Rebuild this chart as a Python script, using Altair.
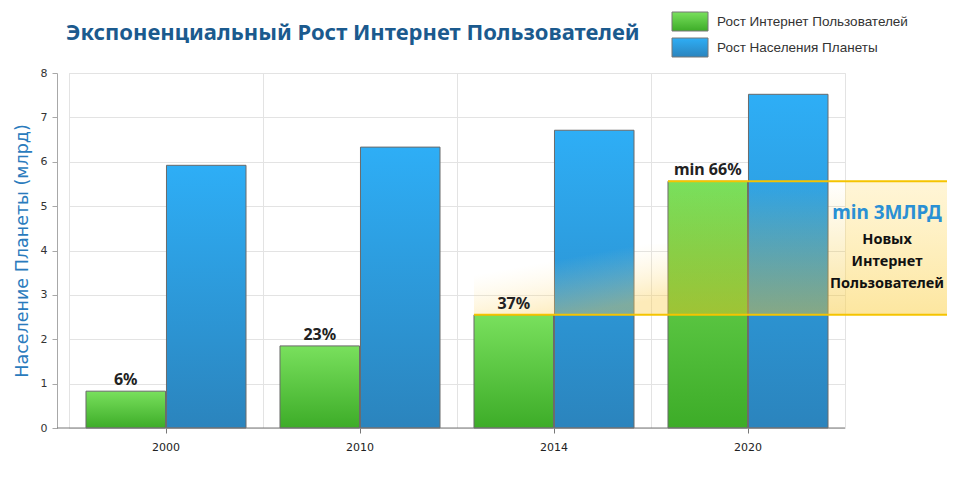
import altair as alt
import pandas as pd

# ---- data ----
years = ["2000", "2010", "2014", "2020"]
internet = [0.83, 1.85, 2.55, 5.56]
population = [5.92, 6.33, 6.71, 7.52]
pct_labels = ["6%", "23%", "37%", "min 66%"]
series = ["Рост Интернет Пользователей", "Рост Населения Планеты"]
title_text = "Экспоненциальный Рост Интернет Пользователей"
y_title = "Население Планеты (млрд)"
note_head = "min 3МЛРД"
note_lines = ["Новых", "Интернет", "Пользователей"]

# ---- layout ----
W, H = 776, 355
PAD = {"left": 61, "top": 65, "right": 102, "bottom": 40}
STEP = W / len(years)
PI, PO = 0.012, 0.211
SUB = STEP / (2 - PI + 2 * PO)
GREEN_OFF = PO * SUB
RIGHT_END = W + PAD["right"]

FONT = "DejaVu Sans"
BOLD_FONT = "Noto Sans"

green_grad = {"gradient": "linear", "x1": 0, "y1": 0, "x2": 0, "y2": 1,
              "stops": [{"offset": 0, "color": "#79e05d"}, {"offset": 1, "color": "#3dac28"}]}
blue_grad = {"gradient": "linear", "x1": 0, "y1": 0, "x2": 0, "y2": 1,
             "stops": [{"offset": 0, "color": "#2eaef6"}, {"offset": 1, "color": "#2b84bd"}]}

df_int = pd.DataFrame({"year": years, "value": internet, "series": series[0], "label": pct_labels})
df_pop = pd.DataFrame({"year": years, "value": population, "series": series[1]})

low, high = internet[2], internet[3]
df_band = pd.DataFrame({"value": [low], "value2": [high]})
df_glow = pd.DataFrame({"value": [low], "value2": [low + 1.6]})
df_low = pd.DataFrame({"value": [low]})
df_high = pd.DataFrame({"value": [high]})

y_enc = alt.Y("value:Q",
              scale=alt.Scale(domain=[0, 8], nice=False),
              axis=alt.Axis(title=y_title, values=list(range(9)), grid=True, gridColor="#e3e3e3",
                            offset=12, domainColor="#a8a8a8", tickColor="#a8a8a8", tickSize=5,
                            labelFont=FONT, labelFontSize=11, labelColor="#333", labelPadding=5,
                            titleFont=FONT, titleFontSize=17.5, titleFontWeight="normal",
                            titleColor="#2a7bbd", titlePadding=9))

x_scale = alt.Scale(domain=years, paddingInner=0, paddingOuter=0)
xo_scale = alt.Scale(domain=series, paddingInner=PI, paddingOuter=PO)

green = alt.Chart(df_int).mark_bar(fill=green_grad, stroke="#6a6a6a", strokeWidth=1).encode(
    x=alt.X("year:N", scale=x_scale,
            axis=alt.Axis(orient="bottom", grid=True, bandPosition=0, gridColor="#e3e3e3",
                          labels=False, ticks=False, domain=False, title=None)),
    xOffset=alt.XOffset("series:N", scale=xo_scale),
    y=y_enc,
)

blue = alt.Chart(df_pop).mark_bar(fill=blue_grad, stroke="#6a6a6a", strokeWidth=1).encode(
    x=alt.X("year:N", scale=x_scale,
            axis=alt.Axis(orient="bottom", title=None, labelAngle=0, labelFont=FONT,
                          labelFontSize=11, labelColor="#222", tickColor="#777", tickSize=5,
                          labelPadding=8, domain=False, grid=False)),
    xOffset=alt.XOffset("series:N", scale=xo_scale),
    y=y_enc,
)

xdomain = alt.Chart(df_low).mark_rule(color="#777", strokeWidth=1).encode(
    x=alt.value(-12), x2=alt.value(W), y=alt.value(H))

labels = alt.Chart(df_int).mark_text(font=BOLD_FONT, fontWeight="bold", fontSize=16,
                                     color="#222", dy=-11).encode(
    x=alt.X("year:N", scale=x_scale, axis=None),
    xOffset=alt.XOffset("series:N", scale=xo_scale),
    y=y_enc,
    text="label:N",
)

glow2014 = alt.Chart(df_glow).mark_rect(fill={
    "gradient": "linear", "x1": 0, "y1": 0, "x2": 0.5, "y2": 1,
    "stops": [{"offset": 0.35, "color": "rgba(255,230,160,0)"},
              {"offset": 1, "color": "rgba(250,205,80,0.40)"}]}).encode(
    x=alt.value(2 * STEP + GREEN_OFF), x2=alt.value(3 * STEP + GREEN_OFF),
    y=y_enc, y2="value2:Q")

over2020 = alt.Chart(df_band).mark_rect(fill={
    "gradient": "linear", "x1": 0, "y1": 0, "x2": 0, "y2": 1,
    "stops": [{"offset": 0, "color": "rgba(245,200,50,0.0)"},
              {"offset": 1, "color": "rgba(245,195,40,0.45)"}]}).encode(
    x=alt.value(3 * STEP + GREEN_OFF), x2=alt.value(W),
    y=y_enc, y2="value2:Q")

box = alt.Chart(df_band).mark_rect(fill={
    "gradient": "linear", "x1": 0, "y1": 0, "x2": 0, "y2": 1,
    "stops": [{"offset": 0, "color": "rgba(255,228,140,0.35)"},
              {"offset": 1, "color": "rgba(251,210,80,0.55)"}]}).encode(
    x=alt.value(W), x2=alt.value(RIGHT_END),
    y=y_enc, y2="value2:Q")

line_low = alt.Chart(df_low).mark_rule(color="#f5c400", strokeWidth=2).encode(
    x=alt.value(2 * STEP + GREEN_OFF), x2=alt.value(RIGHT_END), y=y_enc)
line_high = alt.Chart(df_high).mark_rule(color="#f5c400", strokeWidth=2).encode(
    x=alt.value(3 * STEP + GREEN_OFF), x2=alt.value(RIGHT_END), y=y_enc)

note_x = W + 42
head = alt.Chart(pd.DataFrame({"t": [note_head]})).mark_text(
    font=BOLD_FONT, fontWeight="bold", fontSize=19, color="#2a90d4", align="center",
    baseline="middle").encode(x=alt.value(note_x), y=alt.value(140), text="t:N")
note_layers = []
for i, t in enumerate(note_lines):
    note_layers.append(alt.Chart(pd.DataFrame({"t": [t]})).mark_text(
        font=BOLD_FONT, fontWeight="bold", fontSize=14.5, color="#111", align="center",
        baseline="middle").encode(x=alt.value(note_x), y=alt.value(167 + i * 22), text="t:N"))

title = alt.Chart(pd.DataFrame({"t": [title_text]})).mark_text(
    font=BOLD_FONT, fontWeight="bold", fontSize=22, color="#1b5a8e", align="left",
    baseline="middle").encode(x=alt.value(-3), y=alt.value(-40), text="t:N")

legend_layers = []
for i, (s, g) in enumerate(zip(series, [green_grad, blue_grad])):
    top = -61 + i * 26
    legend_layers.append(alt.Chart(pd.DataFrame({"t": [s]})).mark_rect(
        fill=g, stroke="#777", strokeWidth=1).encode(
        x=alt.value(603), x2=alt.value(639), y=alt.value(top), y2=alt.value(top + 19)))
    legend_layers.append(alt.Chart(pd.DataFrame({"t": [s]})).mark_text(
        font="Liberation Sans", fontSize=13.5, color="#333", align="left",
        baseline="middle").encode(x=alt.value(648), y=alt.value(top + 10), text="t:N"))

chart = alt.layer(
    green, blue, xdomain, glow2014, over2020, box, line_low, line_high, labels,
    head, *note_layers, title, *legend_layers,
).resolve_axis(x="independent").properties(
    width=W, height=H,
    autosize=alt.AutoSizeParams(type="none"),
    padding=PAD,
).configure_view(stroke="#e3e3e3", strokeWidth=1)

chart.save("out.html", embed_options={"renderer": "svg", "actions": False})
